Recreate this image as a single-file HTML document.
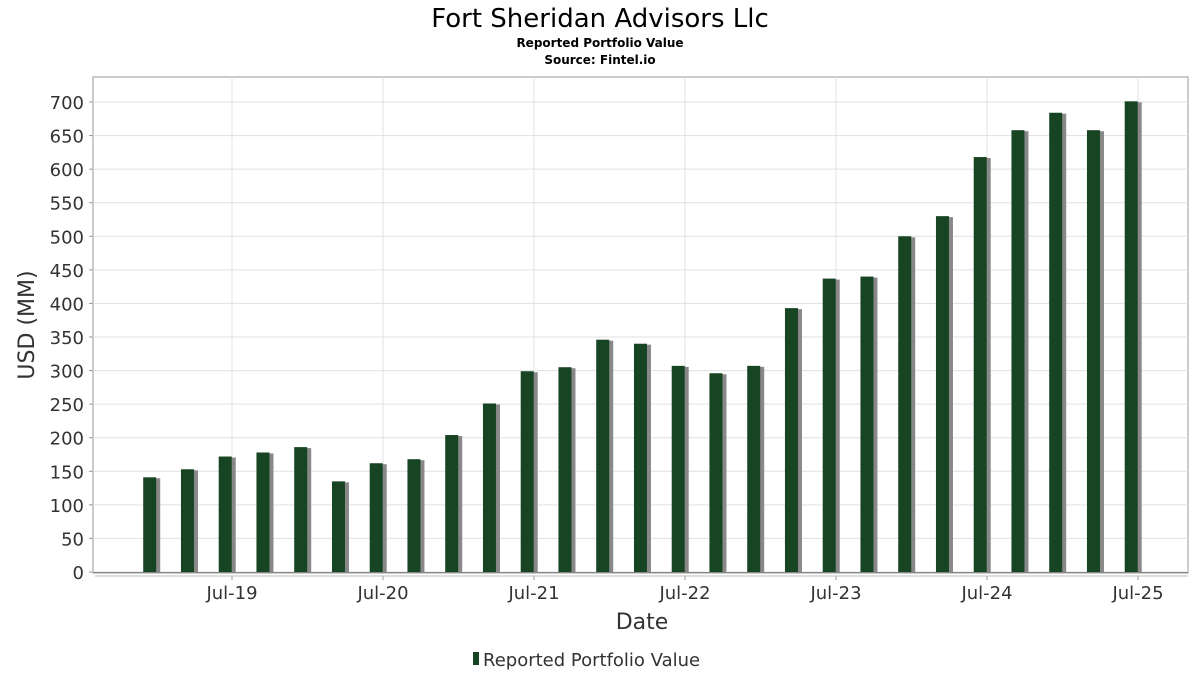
<!DOCTYPE html>
<html><head><meta charset="utf-8"><style>
body{margin:0;background:#fff;font-family:"DejaVu Sans","Liberation Sans",sans-serif}
svg text{font-family:"DejaVu Sans","Liberation Sans",sans-serif}
</style></head><body>
<svg id="c" width="1200" height="675" viewBox="0 0 1200 675" xmlns="http://www.w3.org/2000/svg">
<text x="600" y="27" text-anchor="middle" font-size="26" fill="#000">Fort Sheridan Advisors Llc</text>
<text x="600" y="47" text-anchor="middle" font-size="12" font-weight="bold" fill="#000">Reported Portfolio Value</text>
<text x="600" y="64" text-anchor="middle" font-size="12" font-weight="bold" fill="#000">Source: Fintel.io</text>
<rect x="93" y="77" width="1095" height="496" fill="#fff" stroke="#999"/>
<g id="grid"></g><g id="bars"></g><g id="axes"></g>
<text x="642" y="629" text-anchor="middle" font-size="22" fill="#333">Date</text>
<text transform="translate(34,325) rotate(-90)" text-anchor="middle" font-size="22" fill="#333">USD (MM)</text>
<g>
<rect x="473" y="652" width="6" height="13" fill="#174423"/>
<text x="483" y="666" font-size="18" fill="#333">Reported Portfolio Value</text>
</g>
</svg>
<script>
const dates=["2018-12","2019-03","2019-06","2019-09","2019-12","2020-03","2020-06","2020-09","2020-12","2021-03","2021-06","2021-09","2021-12","2022-03","2022-06","2022-09","2022-12","2023-03","2023-06","2023-09","2023-12","2024-03","2024-06","2024-09","2024-12","2025-03","2025-06"];
const values=[141,153,172,178,186,135,162,168,204,251,299,305,346,340,307,296,307,393,437,440,500,530,618,658,684,658,701];
const yTicks=[0,50,100,150,200,250,300,350,400,450,500,550,600,650,700];
const xTickLabels=["Jul-19","Jul-20","Jul-21","Jul-22","Jul-23","Jul-24","Jul-25"];
const NS="http://www.w3.org/2000/svg";
function yScale(v){return 572-v*470/700;}
// months since Jan 2019; Jul-19 (month 6) -> 232, 151px/yr
function xMonths(m){return 232+(m-6)*151/12;}
function xDate(s){const [y,mo]=s.split("-").map(Number);return xMonths((y-2019)*12+(mo-1)+0.5);}
function xLabel(l){const y=2000+Number(l.split("-")[1]);return xMonths((y-2019)*12+6);}
function mk(t,a,p){const e=document.createElementNS(NS,t);for(const k in a)e.setAttribute(k,a[k]);p.appendChild(e);return e;}
const grid=document.getElementById("grid"),bars=document.getElementById("bars"),axes=document.getElementById("axes");
yTicks.forEach(v=>{const y=yScale(v);
 const g=mk("line",{x1:93,x2:1188,y1:y,y2:y,stroke:"#e0e0e0"},grid);
 
 
 const tk=mk("line",{x1:89,x2:93,y1:y,y2:y,stroke:"#999"},axes);
 
 
 const t=mk("text",{x:84,y:y+7,"text-anchor":"end","font-size":"18",fill:"#333"},axes);t.textContent=v;
 
 
});
xTickLabels.forEach(l=>{const x=xLabel(l);
 const g=mk("line",{x1:x,x2:x,y1:77,y2:572,stroke:"#e0e0e0"},grid);
 
 
 const tk=mk("line",{x1:x,x2:x,y1:576,y2:580,stroke:"#999"},axes);
 
 
 const t=mk("text",{x:x,y:599,"text-anchor":"middle","font-size":"18",fill:"#333"},axes);t.textContent=l;
 
 
});
const ax=mk("line",{x1:93,x2:1188,y1:572.5,y2:572.5,stroke:"#888"},axes);


const ax2=mk("line",{x1:95,x2:1188,y1:576,y2:576,stroke:"#bbb"},axes);


values.forEach((v,i)=>{const cx=xDate(dates[i]),y=yScale(v),h=572-y;
 const s=mk("rect",{x:cx-6+3,y:y+1,width:13,height:h-1,fill:"#888"},bars);
 
 
 const b=mk("rect",{x:cx-7,y:y,width:13,height:h,fill:"#174423"},bars);
 
 
});
</script>
</body></html>
